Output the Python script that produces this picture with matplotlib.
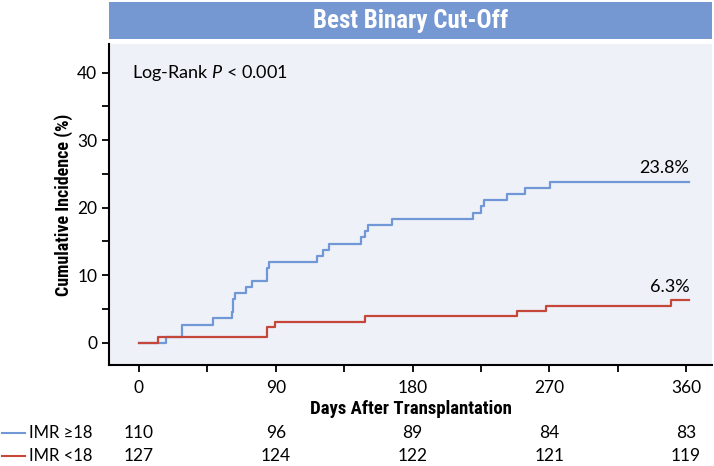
import matplotlib
matplotlib.use("Agg")
import matplotlib.pyplot as plt
from matplotlib import font_manager
from matplotlib.transforms import blended_transform_factory

# bold labels in a narrow sans, plain text in a Myriad-like sans
have = {f.name for f in font_manager.fontManager.ttflist}
narrow = next(c for c in ['Roboto Condensed', 'Liberation Sans Narrow', 'Roboto', 'DejaVu Sans']
              if c in have)
plain = next(c for c in ['Lato', 'Roboto', 'DejaVu Sans'] if c in have)
plt.rcParams['font.family'] = [plain, 'DejaVu Sans']
plt.rcParams['mathtext.fontset'] = 'custom'
plt.rcParams['mathtext.it'] = plain + ':italic'
plt.rcParams['mathtext.rm'] = plain
bold_fam = [narrow, 'DejaVu Sans']

# step curves (day of event, cumulative incidence after event)
hi_days = [0, 17.5, 28, 49, 61, 62, 63, 70.7, 74.6, 84.4, 85.5, 117, 121, 125,
           146, 149, 151, 166.7, 220, 225, 227, 242, 253.7, 270.7, 362]
hi_vals = [0, 0.9, 2.7, 3.6, 4.5, 6.5, 7.3, 8.2, 9.1, 11.0, 11.9, 12.8, 13.7, 14.7,
           15.6, 16.5, 17.4, 18.3, 19.2, 20.2, 21.1, 22.0, 22.9, 23.8, 23.8]
lo_days = [0, 12.8, 84, 89.7, 148.8, 248.7, 267.5, 350, 362]
lo_vals = [0, 0.8, 2.4, 3.1, 3.9, 4.7, 5.5, 6.3, 6.3]

# numbers at risk
risk_days = [0, 90, 180, 270, 360]
risk_hi = [110, 96, 89, 84, 83]
risk_lo = [127, 124, 122, 121, 119]

blue = "#7097d6"
red = "#c4473a"
fs = 12.5

fig = plt.figure(figsize=(7.14, 4.66), dpi=100)

# header band
hdr = fig.add_axes([0.1527, 0.9163, 0.8445, 0.0794])
hdr.set_facecolor("#7698d2")
hdr.set_xticks([]); hdr.set_yticks([])
for s in hdr.spines.values():
    s.set_visible(False)
hdr.text(0.5, 0.48, "Best Binary Cut-Off", color="white", fontsize=18,
         fontweight="bold", family=bold_fam, ha="center", va="center",
         transform=hdr.transAxes)

ax = fig.add_axes([0.1527, 0.2167, 0.8445, 0.6888])
ax.set_facecolor("#eef1f8")
ax.step(hi_days, hi_vals, where="post", color=blue, lw=1.6)
ax.step(lo_days, lo_vals, where="post", color=red, lw=1.6)

ax.set_xlim(-19.7, 377)
ax.set_ylim(-3.3, 44.25)
ax.set_xticks([0, 90, 180, 270, 360])
ax.set_xticks([45, 135, 225, 315], minor=True)
ax.set_yticks([0, 10, 20, 30, 40])
ax.set_yticks([5, 15, 25, 35], minor=True)
ax.tick_params(which="both", direction="out", length=5, width=1.3, labelsize=fs)
ax.tick_params(axis="x", pad=6)
for s in ["top", "right"]:
    ax.spines[s].set_visible(False)
for s in ["left", "bottom"]:
    ax.spines[s].set_linewidth(1.5)

ax.set_ylabel("Cumulative Incidence (%)", fontsize=13, fontweight="semibold",
              family=bold_fam, labelpad=3)
ax.set_xlabel("Days After Transplantation", fontsize=13.5, fontweight="bold",
              family=bold_fam, labelpad=3)

ax.text(-4.5, 40, "Log-Rank $\\it{P}$ < 0.001", fontsize=13, va="center", ha="left")
ax.text(362, 25.9, "23.8%", fontsize=13, ha="right", va="center")
ax.text(362, 8.3, "6.3%", fontsize=13, ha="right", va="center")

# number-at-risk table
tr = blended_transform_factory(ax.transData, fig.transFigure)
y1 = 1 - 433 / 466
y2 = 1 - 456 / 466
for d, a, b in zip(risk_days, risk_hi, risk_lo):
    ax.text(d, y1, str(a), transform=tr, ha="center", va="center", fontsize=fs, clip_on=False)
    ax.text(d, y2, str(b), transform=tr, ha="center", va="center", fontsize=fs, clip_on=False)

fig.add_artist(plt.Line2D([2 / 714, 25 / 714], [y1, y1], color=blue, lw=1.5))
fig.add_artist(plt.Line2D([2 / 714, 25 / 714], [y2, y2], color=red, lw=1.5))
fig.text(29 / 714, y1, "IMR \u226518", fontsize=12, va="center", ha="left")
fig.text(29 / 714, y2, "IMR <18", fontsize=12, va="center", ha="left")

fig.savefig("out.png", dpi=100)
